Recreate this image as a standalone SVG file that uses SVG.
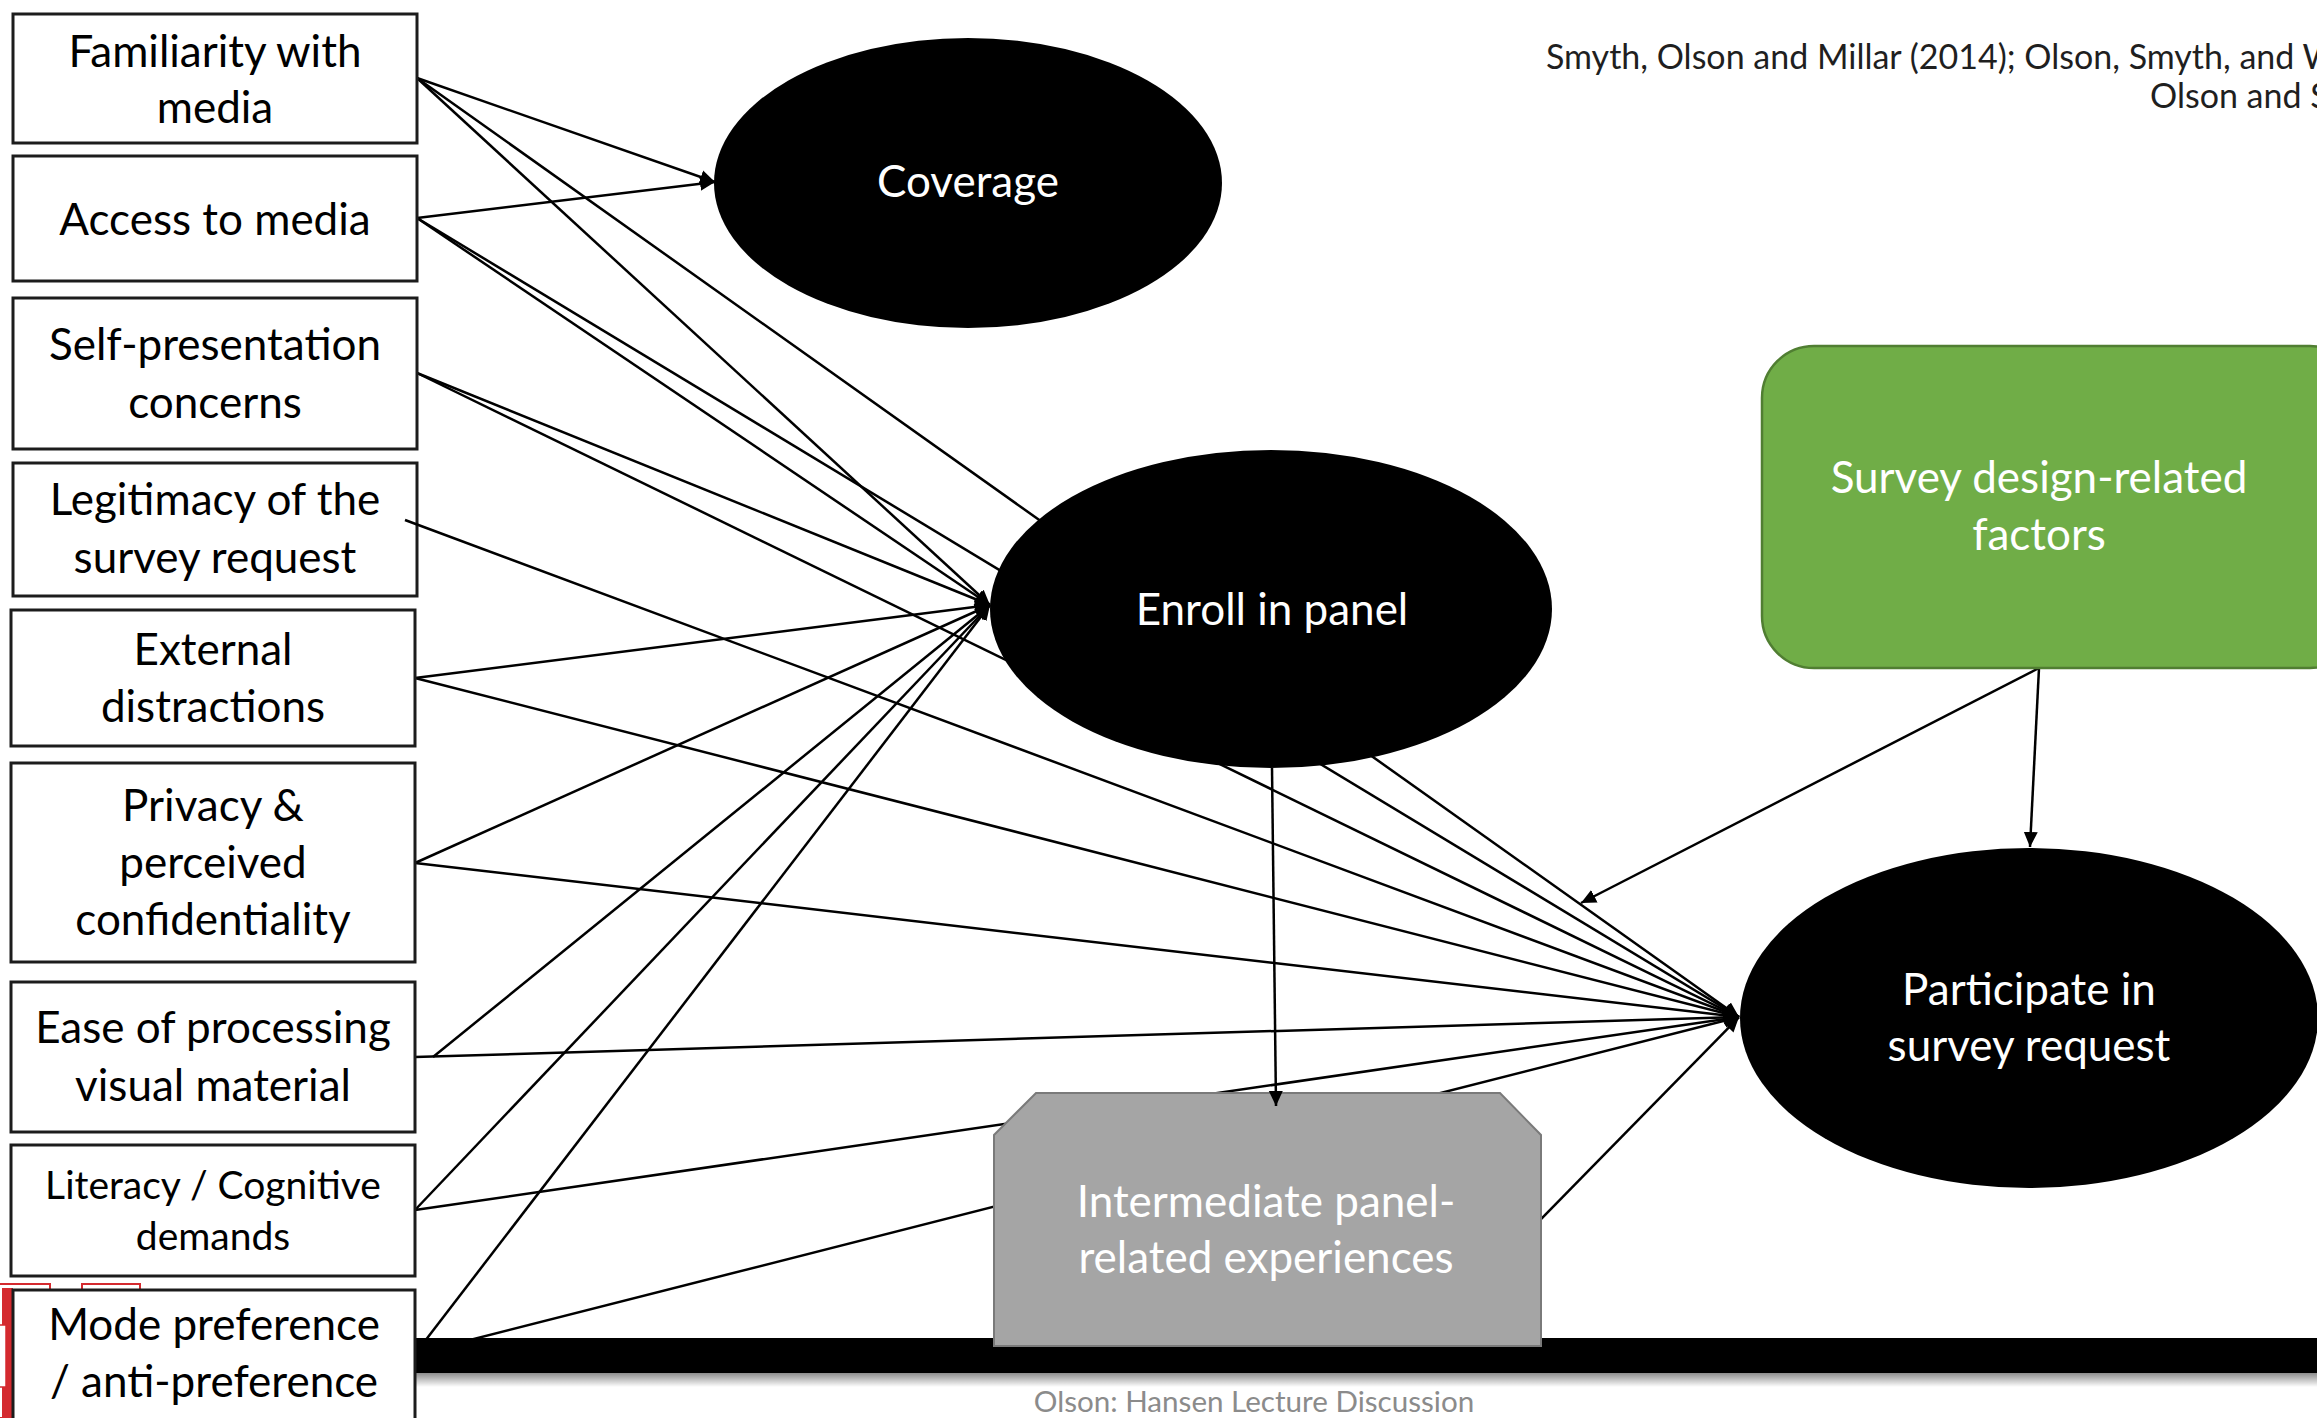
<svg xmlns="http://www.w3.org/2000/svg" width="2317" height="1418" viewBox="0 0 2317 1418">
<defs>
<marker id="ah" markerUnits="userSpaceOnUse" markerWidth="16" markerHeight="16" viewBox="0 0 16 16" refX="15" refY="8" orient="auto"><path d="M0,1 L15,8 L0,15 z" fill="#000"/></marker>
<linearGradient id="shadow" x1="0" y1="0" x2="0" y2="1"><stop offset="0" stop-color="#000" stop-opacity="0.45"/><stop offset="1" stop-color="#000" stop-opacity="0"/></linearGradient>
<style>
.box rect{fill:#fff;stroke:#1c1c1c;stroke-width:3}
.t{font-family:Lato,"Noto Sans",sans-serif;font-size:44px;text-anchor:middle;fill:#000}
.w{fill:#fff}
.cn line{stroke:#000;stroke-width:2.5;marker-end:url(#ah)}
.logo rect{fill:#fff;stroke:#d42a2f;stroke-width:2}
.cite{font-family:Lato,"Noto Sans",sans-serif;font-size:34px;fill:#1f1f1f}
</style>
</defs>
<rect x="0" y="0" width="2317" height="1418" fill="#fff"/>
<g id="logo" class="logo">
<rect x="-4" y="1284" width="54" height="134"/>
<rect x="82" y="1284" width="58" height="24"/>
<rect x="2" y="1288" width="11" height="130" style="fill:#d42a2f;stroke:none"/>
<rect x="-3" y="1325" width="9" height="62" style="stroke-width:1.5"/>
</g>
<g id="connectors" class="cn">
<line x1="417" y1="78" x2="715" y2="182"/>
<line x1="417" y1="218" x2="715" y2="182"/>
<line x1="417" y1="78" x2="990" y2="605"/>
<line x1="417" y1="218" x2="990" y2="605"/>
<line x1="417" y1="373" x2="990" y2="605"/>
<line x1="415" y1="678" x2="990" y2="605"/>
<line x1="415" y1="863" x2="990" y2="605"/>
<line x1="433" y1="1057" x2="990" y2="605"/>
<line x1="415" y1="1210" x2="990" y2="605"/>
<line x1="415" y1="1354" x2="990" y2="605"/>
<line x1="417" y1="78" x2="1739" y2="1017"/>
<line x1="417" y1="218" x2="1739" y2="1017"/>
<line x1="417" y1="373" x2="1739" y2="1017"/>
<line x1="415" y1="678" x2="1739" y2="1017"/>
<line x1="415" y1="863" x2="1739" y2="1017"/>
<line x1="415" y1="1057" x2="1739" y2="1017"/>
<line x1="415" y1="1210" x2="1739" y2="1017"/>
<line x1="415" y1="1354" x2="1739" y2="1017"/>
<line x1="1541" y1="1219" x2="1739" y2="1017"/>
<line x1="2039" y1="668" x2="2030" y2="847"/>
<line x1="2039" y1="668" x2="1581" y2="903"/>
</g>
<g id="footer-bar">
<rect x="415" y="1338" width="1902" height="35" fill="#000"/>
<rect x="415" y="1373" width="1902" height="14" fill="url(#shadow)"/>
</g>
<g id="n-familiarity" class="box"><rect x="13" y="14" width="404" height="129"/><text class="t" x="215" y="67">Familiarity with</text><text class="t" x="215" y="123">media</text></g>
<g id="n-access" class="box"><rect x="13" y="156" width="404" height="125"/><text class="t" x="215" y="235">Access to media</text></g>
<g id="n-selfpres" class="box"><rect x="13" y="298" width="404" height="151"/><text class="t" x="215" y="360">Self-presentation</text><text class="t" x="215" y="418">concerns</text></g>
<g id="n-legitimacy" class="box"><rect x="13" y="463" width="404" height="133"/><text class="t" x="215" y="515">Legitimacy of the</text><text class="t" x="215" y="573">survey request</text></g>
<g id="n-external" class="box"><rect x="11" y="610" width="404" height="136"/><text class="t" x="213" y="665">External</text><text class="t" x="213" y="722">distractions</text></g>
<g id="n-privacy" class="box"><rect x="11" y="763" width="404" height="199"/><text class="t" x="213" y="821">Privacy &amp;</text><text class="t" x="213" y="878">perceived</text><text class="t" x="213" y="935">confidentiality</text></g>
<g id="n-ease" class="box"><rect x="11" y="982" width="404" height="150"/><text class="t" x="213" y="1043">Ease of processing</text><text class="t" x="213" y="1101">visual material</text></g>
<g id="n-literacy" class="box"><rect x="11" y="1145" width="404" height="131"/><text class="t" x="213" y="1199" style="font-size:39px">Literacy / Cognitive</text><text class="t" x="213" y="1250" style="font-size:39px">demands</text></g>
<g id="n-mode" class="box"><rect x="13" y="1290" width="402" height="130"/><text class="t" x="214" y="1340">Mode preference</text><text class="t" x="214" y="1397">/ anti-preference</text></g>
<g id="n-coverage"><ellipse cx="968" cy="183" rx="254" ry="145" fill="#000"/><text class="t w" x="968" y="197">Coverage</text></g>
<g id="n-enroll"><ellipse cx="1271" cy="609" rx="281" ry="159" fill="#000"/><text class="t w" x="1272" y="625">Enroll in panel</text></g>
<g id="n-participate"><ellipse cx="2029" cy="1018" rx="289" ry="170" fill="#000"/><text class="t w" x="2029" y="1005">Participate in</text><text class="t w" x="2029" y="1061">survey request</text></g>
<g id="n-design"><rect x="1762" y="346" width="600" height="322" rx="52" ry="52" fill="#70ad47" stroke="#507e32" stroke-width="2.5"/><text class="t w" x="2039" y="493">Survey design-related</text><text class="t w" x="2039" y="550">factors</text></g>
<g id="n-intermediate"><path d="M1036,1093 L1500,1093 L1541,1135 L1541,1346 L994,1346 L994,1135 Z" fill="#a5a5a5" stroke="#7a7a7a" stroke-width="2"/><text class="t w" x="1266" y="1217">Intermediate panel-</text><text class="t w" x="1266" y="1273">related experiences</text></g>
<g id="connectors-over" class="cn">
<line x1="405" y1="520" x2="1739" y2="1017"/>
<line x1="1272" y1="768" x2="1276" y2="1106"/>
</g>
<g id="labels">
<text class="cite" x="1546" y="69">Smyth, Olson and Millar (2014); Olson, Smyth, and W</text>
<text class="cite" x="2150" y="108">Olson and S</text>
<text x="1254" y="1412" style="font-family:Lato,'Noto Sans',sans-serif;font-size:29.6px;fill:#8b8b8b;text-anchor:middle">Olson: Hansen Lecture Discussion</text>
</g>
</svg>
